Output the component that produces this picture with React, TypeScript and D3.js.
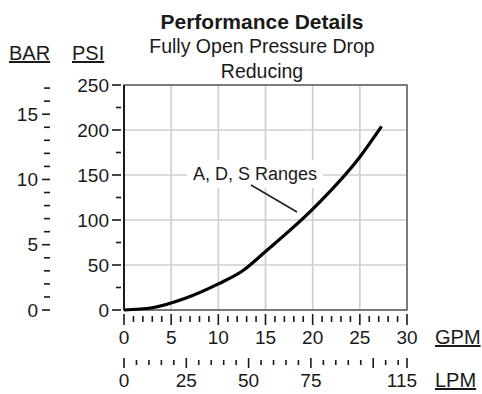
import React from "react";
import * as d3 from "d3";

const gpmValues = [0, 3, 6.5, 10, 12.5, 15, 20, 25, 27.3];
const psiValues = [0, 2.5, 13, 29, 43, 65, 112, 170, 204];
const gpmLabels = [0, 5, 10, 15, 20, 25, 30];
const psiLabels = [0, 50, 100, 150, 200, 250];
const barLabels = [0, 5, 10, 15];
const lpmLabels = ["0", "25", "50", "75", "115"];
const lpmLabelValues = [0, 25, 50, 75, null];

const W = 482, H = 394;
const PSI_PER_BAR = 14.5038;
const LPM_PER_GPM = 3.78541;
const FONT = "Arial, 'Liberation Sans', Helvetica, sans-serif";
const INK = "#1a1a1a";

export default function App() {
  const x = d3.scaleLinear().domain([0, 30]).range([124, 407]);
  const y = d3.scaleLinear().domain([0, 250]).range([310, 85]);
  const line = d3
    .line<number>()
    .x((_, i) => x(gpmValues[i]))
    .y((d) => y(d))
    .curve(d3.curveMonotoneX);

  const gpmTicks = d3.range(0, 31, 1);
  const psiTicks = d3.range(0, 251, 25);
  const barTicks = d3.range(0, 18, 1);
  const lpmTicks = d3.range(0, 111, 5);
  const lpmToX = (l: number) => x(l / LPM_PER_GPM);

  return (
    <svg width={W} height={H} style={{ position: "absolute", left: 0, top: 0, background: "#fff" }} fontFamily={FONT}>
      {/* grid */}
      {gpmLabels.map((g) => (
        <line key={"gx" + g} x1={x(g)} x2={x(g)} y1={y(0)} y2={y(250)} stroke="#cfcfcf" strokeWidth={1.7} />
      ))}
      {psiLabels.map((p) => (
        <line key={"gy" + p} x1={x(0)} x2={x(30)} y1={y(p)} y2={y(p)} stroke="#cfcfcf" strokeWidth={1.7} />
      ))}
      {/* frame */}
      <rect x={x(0)} y={y(250)} width={x(30) - x(0)} height={y(0) - y(250)} fill="none" stroke="#555" strokeWidth={1.4} />
      <line x1={x(0)} x2={x(0)} y1={y(0)} y2={y(250)} stroke={INK} strokeWidth={2} />
      <line x1={x(0)} x2={x(30)} y1={y(0)} y2={y(0)} stroke="#777" strokeWidth={1.4} />

      {/* annotation */}
      <rect x={187} y={160} width={136} height={28} fill="#fff" />
      <text x={193} y={180} fontSize={18} fill={INK}>A, D, S Ranges</text>
      <line x1={251} y1={185} x2={297} y2={212} stroke="#222" strokeWidth={1.6} />

      {/* curve */}
      <path d={line(psiValues) || ""} fill="none" stroke="#000" strokeWidth={3.2} strokeLinejoin="round" />

      {/* titles */}
      <text x={262} y={29} fontSize={21} fontWeight="bold" textAnchor="middle" fill={INK}>Performance Details</text>
      <text x={262} y={53} fontSize={19.5} textAnchor="middle" fill={INK}>Fully Open Pressure Drop</text>
      <text x={262} y={78} fontSize={19.5} textAnchor="middle" fill={INK}>Reducing</text>

      {/* unit headers */}
      <text x={9} y={60} fontSize={20} fill={INK} style={{ textDecoration: "underline" }}>BAR</text>
      <text x={72} y={60} fontSize={20} fill={INK} style={{ textDecoration: "underline" }}>PSI</text>
      <text x={435} y={344} fontSize={20} fill={INK} style={{ textDecoration: "underline" }}>GPM</text>
      <text x={435} y={387} fontSize={20} fill={INK} style={{ textDecoration: "underline" }}>LPM</text>

      {/* PSI axis */}
      {psiTicks.map((p) => (
        <line key={"pt" + p} x1={p % 50 === 0 ? 112 : 116} x2={121} y1={y(p)} y2={y(p)} stroke={INK} strokeWidth={1.6} />
      ))}
      {psiLabels.map((p) => (
        <text key={"pl" + p} x={109} y={y(p)} dy="0.35em" fontSize={19} textAnchor="end" fill={INK}>{p}</text>
      ))}

      {/* BAR axis */}
      {barTicks.map((b) => (
        <line key={"bt" + b} x1={b % 5 === 0 ? 42 : 44} x2={50} y1={y(b * PSI_PER_BAR)} y2={y(b * PSI_PER_BAR)} stroke={INK} strokeWidth={1.6} />
      ))}
      {barLabels.map((b) => (
        <text key={"bl" + b} x={38} y={y(b * PSI_PER_BAR)} dy="0.35em" fontSize={19} textAnchor="end" fill={INK}>{b}</text>
      ))}

      {/* GPM axis */}
      {gpmTicks.map((g) => (
        <line key={"gt" + g} x1={x(g)} x2={x(g)} y1={g % 5 === 0 ? 314 : 316} y2={g % 5 === 0 ? 325 : 322} stroke={INK} strokeWidth={1.6} />
      ))}
      {gpmLabels.map((g) => (
        <text key={"glb" + g} x={x(g)} y={344} fontSize={19} textAnchor="middle" fill={INK}>{g}</text>
      ))}

      {/* LPM axis */}
      {lpmTicks.map((l) => (
        <line key={"lt" + l} x1={lpmToX(l)} x2={lpmToX(l)} y1={l % 25 === 0 ? 358 : 360} y2={l % 25 === 0 ? 368 : 365} stroke={INK} strokeWidth={1.6} />
      ))}
      <line x1={x(30)} x2={x(30)} y1={358} y2={368} stroke={INK} strokeWidth={1.6} />
      {lpmLabels.map((t, i) => {
        const v = lpmLabelValues[i];
        const px = v === null ? x(30) - 5 : lpmToX(v);
        return (
          <text key={"llb" + t} x={px} y={387} fontSize={19} textAnchor="middle" fill={INK}>{t}</text>
        );
      })}
    </svg>
  );
}
